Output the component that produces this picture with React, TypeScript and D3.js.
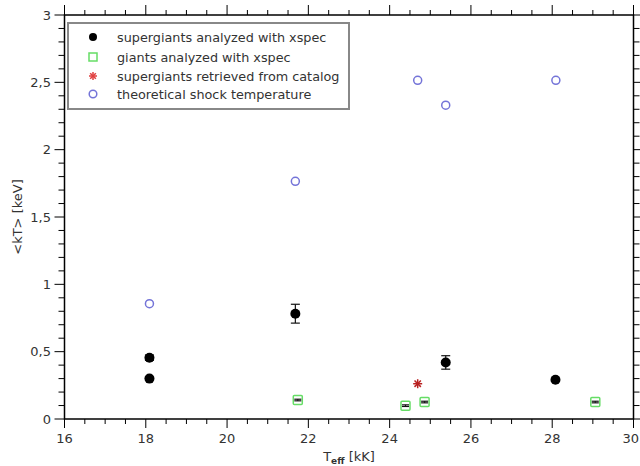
import React from "react";
import * as d3 from "d3";

const sgX = [18.09, 18.09, 21.68, 25.38, 28.08];
const sgY = [0.455, 0.3, 0.782, 0.42, 0.292];
const sgErr = [0.02, 0, 0.07, 0.05, 0];

const gX = [21.74, 24.39, 24.86, 29.06];
const gY = [0.141, 0.099, 0.126, 0.126];
const gErr = [0.006, 0.006, 0.006, 0.006];

const catX = [24.69];
const catY = [0.262];

const thX = [18.09, 21.68, 24.69, 25.38, 28.09];
const thY = [0.856, 1.765, 2.515, 2.33, 2.515];

const xTicks = [16, 18, 20, 22, 24, 26, 28, 30];
const yTicks = [0, 0.5, 1, 1.5, 2, 2.5, 3];
const yTickLabels = ["0", "0,5", "1", "1,5", "2", "2,5", "3"];

const legendLabels = [
  "supergiants analyzed with xspec",
  "giants analyzed with xspec",
  "supergiants retrieved from catalog",
  "theoretical shock temperature",
];

const W = 640;
const H = 466;
const L = 64.5;
const R = 633.5;
const T = 15;
const B = 419;
const FONT = "DejaVu Sans, Verdana, sans-serif";
const TXT = "#333";

const x = d3.scaleLinear().domain([16, 30]).range([L, R]);
const y = d3.scaleLinear().domain([0, 3]).range([B, T]);

const xMinor = d3.range(16, 30.001, 0.5);
const yMinor = d3.range(0, 3.0001, 0.1);

function Star({ cx, cy, r, color }: { cx: number; cy: number; r: number; color: string }) {
  const lines = [0, 45, 90, 135].map((a) => {
    const rad = (a * Math.PI) / 180;
    return (
      <line
        key={a}
        x1={cx - r * Math.cos(rad)}
        y1={cy - r * Math.sin(rad)}
        x2={cx + r * Math.cos(rad)}
        y2={cy + r * Math.sin(rad)}
        stroke={color}
        strokeWidth={1.5}
      />
    );
  });
  return <g>{lines}</g>;
}

function ErrBar({ cx, v, e, cap }: { cx: number; v: number; e: number; cap: number }) {
  if (e <= 0) return null;
  const y1 = y(v + e);
  const y2 = y(v - e);
  return (
    <g stroke="#111" strokeWidth={1.2}>
      <line x1={cx} x2={cx} y1={y1} y2={y2} />
      <line x1={cx - cap} x2={cx + cap} y1={y1} y2={y1} />
      <line x1={cx - cap} x2={cx + cap} y1={y2} y2={y2} />
    </g>
  );
}

export default function App() {
  const green = "#66dd66";
  const blue = "#7474d8";
  const red = "#b82020";
  const lx = 93;
  const ly = [37, 57, 76, 94];
  return (
    <svg
      width={W}
      height={H}
      style={{ position: "absolute", left: 0, top: 0, background: "#fff" }}
      fontFamily={FONT}
    >
      <rect x={0} y={0} width={W} height={H} fill="#fff" />
      <rect x={L} y={T} width={R - L} height={B - T} fill="none" stroke="#000" strokeWidth={1.5} />
      {xMinor.map((v, i) => {
        const major = Math.abs(v - Math.round(v / 2) * 2) < 1e-6;
        const px = x(v);
        return (
          <g key={"xt" + i} stroke="#000" strokeWidth={1}>
            <line x1={px} x2={px} y1={B} y2={B + (major ? 9 : 5)} />
            <line x1={px} x2={px} y1={T} y2={T - (major ? 10 : 5)} />
          </g>
        );
      })}
      {yMinor.map((v, i) => {
        const major = i % 5 === 0;
        const py = y(v);
        return (
          <g key={"yt" + i} stroke="#000" strokeWidth={1}>
            <line x1={L} x2={L - (major ? 10 : 6)} y1={py} y2={py} />
            <line x1={R} x2={R + (major ? 8 : 6)} y1={py} y2={py} />
          </g>
        );
      })}
      {xTicks.map((v, i) => {
        const last = i === xTicks.length - 1;
        return (
          <text
            key={"xl" + v}
            x={last ? W - 1 : x(v)}
            y={443}
            textAnchor={last ? "end" : "middle"}
            fontSize={13}
            fill={TXT}
          >
            {v}
          </text>
        );
      })}
      {yTicks.map((v, i) => (
        <text key={"yl" + v} x={51} y={y(v) + 4.5} textAnchor="end" fontSize={13} fill={TXT}>
          {yTickLabels[i]}
        </text>
      ))}
      <text x={349} y={461} textAnchor="middle" fontSize={13} fill={TXT}>
        T<tspan fontSize={9} dy={3} fontWeight="bold">eff</tspan>
        <tspan dy={-3}> [kK]</tspan>
      </text>
      <text
        transform={`translate(22, ${(T + B) / 2}) rotate(-90)`}
        textAnchor="middle"
        fontSize={13}
        fill={TXT}
      >
        {"<kT> [keV]"}
      </text>

      {thX.map((v, i) => (
        <circle key={"th" + i} cx={x(v)} cy={y(thY[i])} r={4} fill="none" stroke={blue} strokeWidth={1.5} />
      ))}
      {sgX.map((v, i) => (
        <g key={"sg" + i}>
          <ErrBar cx={x(v)} v={sgY[i]} e={sgErr[i]} cap={4.5} />
          <circle cx={x(v)} cy={y(sgY[i])} r={5} fill="#000" />
        </g>
      ))}
      {gX.map((v, i) => (
        <g key={"g" + i}>
          <rect x={x(v) - 4.5} y={y(gY[i]) - 4.5} width={9} height={9} fill="none" stroke={green} strokeWidth={1.5} rx={1} />
          <ErrBar cx={x(v)} v={gY[i]} e={gErr[i]} cap={3.5} />
        </g>
      ))}
      {catX.map((v, i) => (
        <Star key={"c" + i} cx={x(v)} cy={y(catY[i])} r={4.5} color={red} />
      ))}

      <rect x={68} y={23} width={281} height={86} fill="#fff" stroke="#888" strokeWidth={2} />
      <circle cx={lx} cy={ly[0]} r={4} fill="#000" />
      <rect x={lx - 4} y={ly[1] - 4} width={8} height={8} fill="none" stroke={green} strokeWidth={1.5} />
      <Star cx={lx} cy={ly[2]} r={4} color={"#e04040"} />
      <circle cx={lx} cy={ly[3]} r={3.8} fill="none" stroke={blue} strokeWidth={1.5} />
      {legendLabels.map((t, i) => (
        <text key={"lg" + i} x={117} y={ly[i] + 4.5} fontSize={12.8} fill={TXT}>
          {t}
        </text>
      ))}
    </svg>
  );
}
